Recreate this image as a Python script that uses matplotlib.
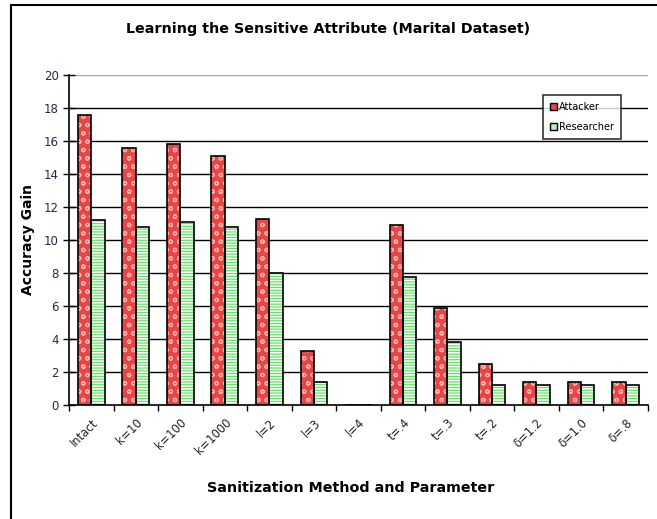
import matplotlib
matplotlib.use("Agg")
import matplotlib.pyplot as plt
from matplotlib.patches import Patch
from matplotlib.lines import Line2D
import numpy as np

categories = ["Intact", "k=10", "k=100", "k=1000", "l=2", "l=3", "l=4",
              "t=.4", "t=.3", "t=.2", "δ=1.2", "δ=1.0", "δ=.8"]
attacker = [17.6, 15.6, 15.8, 15.1, 11.3, 3.3, 0.0, 10.9, 5.9, 2.5, 1.4, 1.4, 1.4]
researcher = [11.2, 10.8, 11.1, 10.8, 8.0, 1.4, 0.0, 7.75, 3.8, 1.2, 1.2, 1.2, 1.2]
yticks = [0, 2, 4, 6, 8, 10, 12, 14, 16, 18, 20]

plt.rcParams['hatch.linewidth'] = 0.9
fig = plt.figure(figsize=(6.57, 5.19), dpi=100)
ax = fig.add_axes([0.105, 0.2197, 0.881, 0.6358])

x = np.arange(len(categories))
w = 0.3
red = "#e84545"
green = "#66e066"

for yv in yticks[1:-1]:
    ax.axhline(yv, color="black", lw=1.0, zorder=1)
ax.axhline(20, color="#aaaaaa", lw=1.0, zorder=1)

# attacker bars: red with pale dots
ax.bar(x - w/2, attacker, w, color=red, edgecolor="#f7b0b0", hatch="oo", lw=0, zorder=2)
ax.bar(x - w/2, attacker, w, fill=False, edgecolor="black", lw=1.2, zorder=3)
# researcher bars: white with green horizontal lines
ax.bar(x + w/2, researcher, w, color="white", edgecolor=green, hatch="------", lw=0, zorder=2)
ax.bar(x + w/2, researcher, w, fill=False, edgecolor="black", lw=1.2, zorder=3)

ax.set_xlim(-0.5, len(categories) - 0.5)
ax.set_ylim(0, 20)
ax.set_yticks(yticks)
ax.set_yticklabels([str(v) for v in yticks], fontsize=8.5, color="#1f2a44")
ax.tick_params(axis="y", direction="inout", length=8, width=1)
ax.set_xticks(x)
ax.set_xticklabels(categories, rotation=45, ha="right", rotation_mode="anchor",
                   fontsize=8.3, color="#222222")
ax.set_xticks(np.arange(len(categories) + 1) - 0.5, minor=True)
ax.tick_params(axis="x", which="major", length=0, pad=8)
ax.tick_params(axis="x", which="minor", direction="out", length=4, width=1)

for s in ["top", "right"]:
    ax.spines[s].set_visible(False)
ax.spines["left"].set_linewidth(1.2)
ax.spines["bottom"].set_linewidth(1.2)

ax.set_ylabel("Accuracy Gain", fontsize=10, fontweight="bold", labelpad=6)
ax.set_xlabel("Sanitization Method and Parameter", fontsize=10.3, fontweight="bold")
ax.xaxis.set_label_coords(0.486, -0.252)
ax.xaxis.label.set_va("center")
fig.text(0.5, 0.945, "Learning the Sensitive Attribute (Marital Dataset)",
         ha="center", va="center", fontsize=10.3, fontweight="bold")

handles = [Patch(facecolor=red, edgecolor="black", lw=1),
           Patch(facecolor="#b5f0b5", edgecolor="black", lw=1)]
leg = ax.legend(handles, ["Attacker", "Researcher"], loc="upper right",
                bbox_to_anchor=(0.962, 0.955), fontsize=7, frameon=True, fancybox=False,
                edgecolor="black", handlelength=0.7, handleheight=0.7, handletextpad=0.2,
                labelspacing=1.0, borderpad=0.75)
leg.get_frame().set_linewidth(1.2)

# outer border (left and top)
fig.add_artist(Line2D([0.016, 0.016], [0, 0.991], color="black", lw=1.5, transform=fig.transFigure))
fig.add_artist(Line2D([0.016, 1.0], [0.991, 0.991], color="black", lw=1.5, transform=fig.transFigure))

fig.savefig("out.png", dpi=100)
